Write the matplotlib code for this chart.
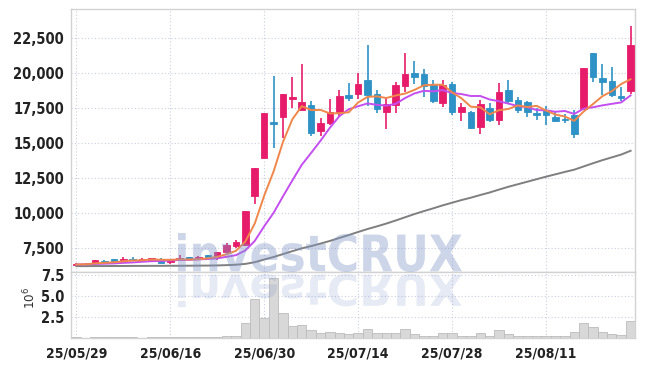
import matplotlib
matplotlib.use("Agg")
import matplotlib.pyplot as plt
from matplotlib.textpath import TextPath
from matplotlib.patches import PathPatch
from matplotlib.font_manager import FontProperties
from matplotlib.transforms import Affine2D, IdentityTransform
from matplotlib.ticker import FuncFormatter, FixedLocator
import numpy as np

# trading-day index 0..59 (25/05/29 .. 25/08/25)
tick_pos = [0, 10, 20, 30, 40, 50]
tick_labels = ["25/05/29", "25/06/16", "25/06/30", "25/07/14", "25/07/28", "25/08/11"]

opens = [6270, 6300, 6400, 6570, 6670, 6570, 6670, 6620, 6620, 6710,
         6480, 6640, 6810, 6670, 6950, 6860, 7210, 7620, 7700, 11200,
         13900, 16450, 16850, 18150, 17350, 17700, 15800, 16400, 17200, 18400,
         18450, 19500, 18450, 17200, 17700, 19050, 19950, 19900, 19100, 17850,
         19200, 17200, 17200, 16150, 17450, 16650, 18750, 18050, 17900, 17100,
         17350, 16850, 16700, 17000, 17400, 21400, 19650, 19400, 18350, 18700]
highs = [6420, 6380, 6620, 6600, 6700, 6800, 6810, 6760, 6780, 6760,
         6690, 6950, 6850, 6870, 6980, 7210, 7860, 8050, 10150, 13200,
         17150, 19750, 18500, 19700, 20600, 17950, 16750, 18150, 18750, 19250,
         19950, 22000, 18750, 18250, 19300, 21400, 20850, 20250, 19450, 19450,
         19300, 17800, 17250, 18050, 17850, 19250, 19500, 18250, 18000, 17450,
         17600, 17200, 17050, 17350, 20300, 21400, 20600, 20400, 19000, 23350]
lows = [6250, 6280, 6380, 6450, 6480, 6540, 6580, 6600, 6600, 6420,
        6360, 6620, 6640, 6640, 6740, 6620, 7180, 7500, 7600, 10600,
        13900, 14600, 15300, 17500, 17300, 15500, 15450, 16250, 16900, 17950,
        18100, 17600, 17150, 16000, 17150, 18650, 19200, 18250, 17850, 17550,
        17000, 16550, 15950, 15650, 16500, 16250, 17750, 17100, 16850, 16600,
        16250, 16450, 16400, 15300, 17400, 19300, 18400, 18250, 18000, 18500]
closes = [6350, 6350, 6600, 6480, 6500, 6710, 6600, 6710, 6740, 6430,
          6670, 6760, 6670, 6830, 6760, 7190, 7690, 7900, 10150, 13200,
          17100, 16350, 18450, 18250, 17900, 15700, 16400, 17200, 18350, 18200,
          19200, 18400, 17400, 17750, 19100, 19900, 19700, 19050, 17950, 19100,
          17200, 17550, 16050, 17750, 16600, 18650, 18000, 17300, 17200, 17000,
          17000, 16550, 16600, 15650, 20300, 19700, 19350, 18400, 18200, 22000]
# volume, millions of shares
volume = [0.08, 0.05, 0.10, 0.06, 0.07, 0.09, 0.06, 0.05, 0.07, 0.08,
          0.06, 0.09, 0.06, 0.07, 0.08, 0.12, 0.22, 0.24, 1.75, 4.60,
          2.34, 7.10, 2.94, 1.43, 1.50, 0.91, 0.60, 0.71, 0.56, 0.48,
          0.56, 1.03, 0.56, 0.56, 0.56, 1.03, 0.48, 0.26, 0.24, 0.60,
          0.60, 0.28, 0.28, 0.60, 0.28, 0.91, 0.44, 0.28, 0.28, 0.20,
          0.28, 0.28, 0.20, 0.71, 1.75, 1.27, 0.71, 0.48, 0.32, 1.98]
# moving averages as drawn (5, 10, 60 day)
ma5 = [6300, 6310, 6380, 6416, 6456, 6528, 6578, 6600, 6652, 6638,
       6630, 6662, 6654, 6672, 6738, 6842, 7028, 7274, 7938, 9226,
       11208, 12940, 15050, 16670, 17610, 17330, 17340, 17090, 17110, 17170,
       17870, 18270, 18310, 18190, 18370, 18510, 18770, 19100, 19140, 19140,
       18600, 18170, 17570, 17530, 17030, 17320, 17410, 17660, 17550, 17630,
       17300, 17010, 16870, 16560, 17220, 17760, 18320, 18680, 19190, 19530]
ma10 = [6300, 6305, 6335, 6353, 6373, 6414, 6444, 6490, 6534, 6547,
        6579, 6620, 6627, 6662, 6688, 6736, 6845, 6964, 7305, 7982,
        9025, 9984, 11162, 12304, 13418, 14269, 15140, 16070, 16890, 17390,
        17600, 17805, 17700, 17650, 17770, 18190, 18520, 18705, 18665, 18755,
        18555, 18470, 18335, 18335, 18085, 17960, 17790, 17615, 17540, 17330,
        17310, 17210, 17265, 17055, 17425, 17530, 17665, 17775, 17875, 18375]
ma60 = [6180, 6180, 6185, 6185, 6190, 6190, 6195, 6195, 6200, 6200,
        6205, 6205, 6210, 6215, 6220, 6230, 6250, 6280, 6340, 6460,
        6650, 6830, 7040, 7250, 7450, 7610, 7790, 7980, 8190, 8400,
        8620, 8830, 9020, 9220, 9440, 9670, 9900, 10110, 10310, 10520,
        10710, 10900, 11070, 11260, 11440, 11650, 11850, 12030, 12210, 12390,
        12570, 12740, 12910, 13070, 13300, 13530, 13750, 13950, 14150, 14420]

UP = "#e61c6a"
DOWN = "#2e92c6"
GRID = "#c9cee0"
SPINE = "#d2d2d2"
TXT = "#222222"

plt.rcParams["font.family"] = ["DejaVu Sans"]
plt.rcParams["font.stretch"] = "condensed"

W, H = 645, 366
fig = plt.figure(figsize=(W / 100, H / 100), dpi=100)
ax = fig.add_axes([71 / W, (H - 272) / H, (635 - 71) / W, (272 - 9) / H])
axv = fig.add_axes([71 / W, (H - 338) / H, (635 - 71) / W, (338 - 272) / H], sharex=ax)

x = np.arange(len(closes))
o = np.array(opens, float)
c = np.array(closes, float)
cols = [UP if cc >= oo else DOWN for oo, cc in zip(o, c)]
bottoms = np.minimum(o, c)
heights = np.maximum(np.abs(c - o), 60)
ax.vlines(x, lows, highs, colors=cols, linewidth=1.2, zorder=3)
ax.bar(x, heights, bottom=bottoms, width=0.7, color=cols, edgecolor=cols,
       linewidth=0.6, zorder=4)
ax.plot(x, ma60, color="#7f7f7f", lw=1.4, zorder=5)
ax.plot(x, ma10, color="#c44ef0", lw=1.4, zorder=5)
ax.plot(x, ma5, color="#f0874a", lw=1.4, zorder=5)

ax.set_xlim(-0.56, 59.47)
ax.set_ylim(5760, 24550)
ax.yaxis.set_major_locator(FixedLocator([7500, 10000, 12500, 15000, 17500, 20000, 22500]))
ax.yaxis.set_major_formatter(FuncFormatter(lambda v, p: f"{v:,.0f}"))
ax.tick_params(axis="x", labelbottom=False, length=0)

axv.bar(x, np.array(volume) * 1e6, width=1.0, color="#d8d8d8", edgecolor="#bcbcbc",
        linewidth=0.6, zorder=3)
axv.set_ylim(0, 7.86e6)
axv.yaxis.set_major_locator(FixedLocator([2.5e6, 5.0e6, 7.5e6]))
axv.yaxis.set_major_formatter(FuncFormatter(lambda v, p: f"{v / 1e6:.1f}"))
axv.set_xticks(tick_pos)
axv.set_xticklabels(tick_labels)
axv.set_ylabel(r"$10^{6}$", fontsize=9.5, color="#333333")
axv.yaxis.set_label_coords(-0.058, 0.6)

for a in (ax, axv):
    a.grid(True, color=GRID, linestyle=(0, (1, 2)), linewidth=0.8, zorder=0)
    a.set_axisbelow(True)
    for s in a.spines.values():
        s.set_color(SPINE)
        s.set_linewidth(1.0)
    a.tick_params(length=0, pad=5, labelsize=10.5, labelcolor=TXT)
    for lab in a.get_yticklabels() + a.get_xticklabels():
        lab.set_fontweight("bold")
axv.tick_params(axis="x", labelsize=10, pad=6)

# watermark + reflection
fp = FontProperties(family="DejaVu Sans", weight="bold", stretch="normal")
tp = TextPath((0, 0), "investCRUX", size=50, prop=fp)
ext = tp.get_extents()
sx = (462 - 178) / ext.width
sy = (272 - 233) / ext.height
t_main = Affine2D().translate(-ext.x0, -ext.y0).scale(sx, sy).translate(178, H - 272)
fig.add_artist(PathPatch(t_main.transform_path(tp), transform=IdentityTransform(),
                         facecolor="#8296c8", edgecolor="none", alpha=0.4, zorder=10))
t_ref = Affine2D().translate(-ext.x0, -ext.y0).scale(sx, -sy * 0.85).translate(178, H - 274)
fig.add_artist(PathPatch(t_ref.transform_path(tp), transform=IdentityTransform(),
                         facecolor="#8296c8", edgecolor="none", alpha=0.2, zorder=10))

fig.savefig("out.png", dpi=100)
